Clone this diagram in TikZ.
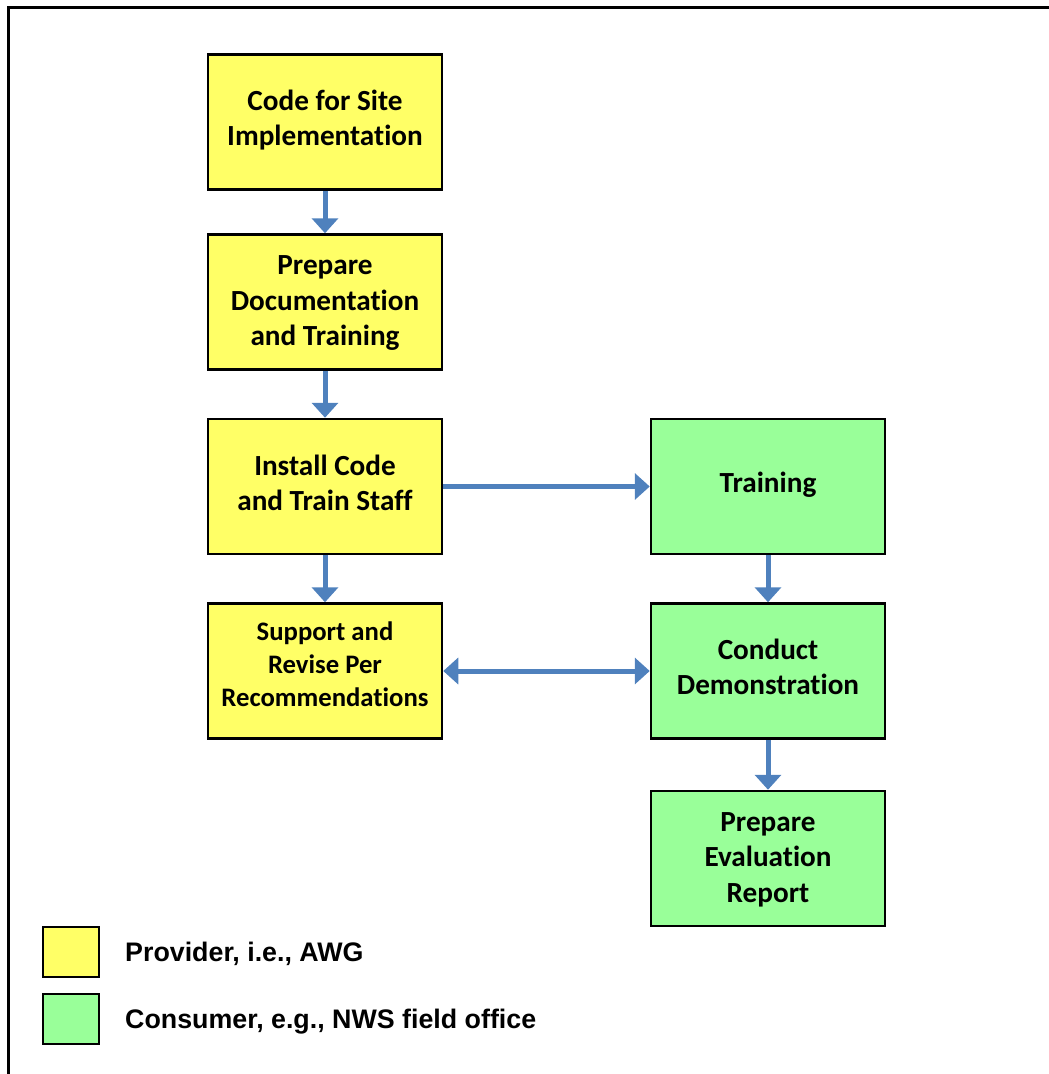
\documentclass[tikz,border=0pt]{standalone}
\usepackage{fontspec}
\newfontfamily\boxfont[Ligatures={NoCommon}]{Carlito}
\newfontfamily\legfont{Liberation Sans}
\usetikzlibrary{arrows.meta}
\definecolor{provY}{HTML}{FFFF66}
\definecolor{consG}{HTML}{99FF99}
\definecolor{arrB}{HTML}{4F81BD}
\tikzset{
  stepbox/.style={draw=black, line width=2.5pt, minimum width=234pt, minimum height=135pt, inner sep=0pt},
  prov/.style={stepbox, fill=provY},
  cons/.style={stepbox, fill=consG},
  txt/.style={inner sep=0pt, align=center, font=\boxfont\bfseries\fontsize{29.2}{35.5}\selectfont},
  smalltxt/.style={txt, font=\boxfont\bfseries\fontsize{26.7}{33}\selectfont},
  flow/.style={draw=arrB, line width=5pt, -{Triangle[length=15pt,width=26pt]}},
  dflow/.style={draw=arrB, line width=5pt, {Triangle[length=15pt,width=26pt]}-{Triangle[length=15pt,width=26pt]}},
  legbox/.style={draw=black, line width=2pt, minimum width=56pt, minimum height=50pt, inner sep=0pt},
  legtext/.style={anchor=west, inner sep=0pt, font=\legfont\bfseries\fontsize{26.8}{30}\selectfont}
}
\begin{document}
\begin{tikzpicture}[x=1pt,y=-1pt]
\useasboundingbox (0,0) rectangle (1049,1074);
\draw[line width=3pt, line cap=rect] (8.5,1080) -- (8.5,7) -- (1060,7);
\node[prov, label={[txt, yshift=2pt]center:{Code for Site\\Implementation}}] (code) at (325,122) {};
\node[prov, label={[txt, yshift=-1.5pt]center:{Prepare\\Documentation\\and Training}}] (doc) at (325,302) {};
\node[prov, label={[txt, yshift=3.5pt]center:{Install Code\\and Train Staff}}] (inst) at (325,486.5) {};
\node[prov, label={[smalltxt, yshift=7pt]center:{Support and\\Revise Per\\Recommendations}}] (supp) at (325,671) {};
\node[cons, label={[txt, yshift=2pt]center:{Training}}] (train) at (768,486.5) {};
\node[cons, label={[txt, yshift=4pt]center:{Conduct\\Demonstration}}] (demo) at (768,671) {};
\node[cons, label={[txt, yshift=-1pt]center:{Prepare\\Evaluation\\Report}}] (eval) at (768,858.5) {};
\draw[flow] (code) -- (doc);
\draw[flow] (doc) -- (inst);
\draw[flow] (inst) -- (supp);
\draw[flow] (inst) -- (train);
\draw[dflow] (supp) -- (demo);
\draw[flow] (train) -- (demo);
\draw[flow] (demo) -- (eval);
\node[legbox, fill=provY] (lp) at (70.5,952) {};
\node[legbox, fill=consG] (lc) at (70.5,1019) {};
\node[legtext] (lpt) at (125,954) {Provider, i.e., AWG};
\node[legtext] (lct) at (125,1022) {Consumer, e.g., NWS field office};
\end{tikzpicture}
\end{document}
